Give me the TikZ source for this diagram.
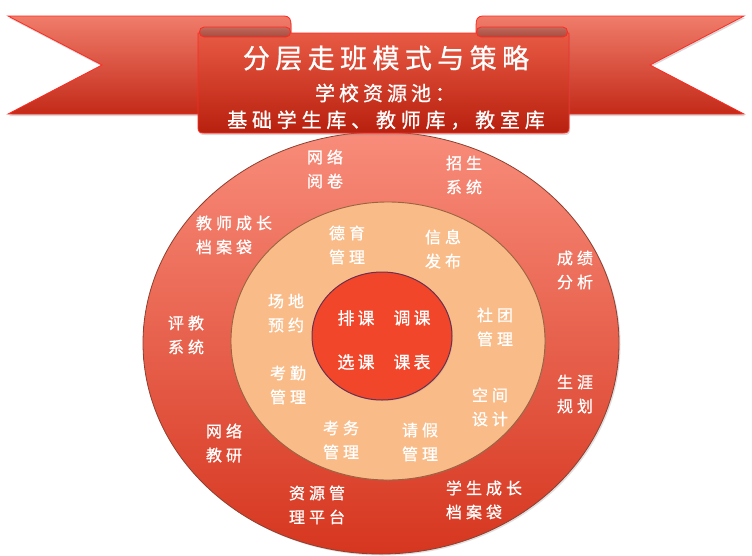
\documentclass[tikz,border=0pt]{standalone}
\usepackage{fontspec}
\newfontfamily\cjk[FakeBold=0.8]{Noto Sans CJK SC}
\usetikzlibrary{shadows}
\definecolor{ribtop}{HTML}{F07C6A}
\definecolor{ribbot}{HTML}{C42A18}
\definecolor{frtop}{HTML}{E85A44}
\definecolor{frbot}{HTML}{B8200E}
\definecolor{ribedge}{HTML}{FF2A22}
\definecolor{rolltop}{HTML}{C06A5E}
\definecolor{rollbot}{HTML}{A84A3C}
\definecolor{outtop}{HTML}{F88C7A}
\definecolor{outmid}{HTML}{F4503A}
\definecolor{outbot}{HTML}{D6361F}
\definecolor{outedge}{HTML}{8E4030}
\definecolor{peach}{HTML}{F9BC88}
\definecolor{peachedge}{HTML}{9A6440}
\definecolor{core}{HTML}{F2462A}
\definecolor{coreedge}{HTML}{6A3050}
\tikzset{
  lbl/.style={text=white, inner sep=0pt, align=center,
    font=\cjk\addfontfeature{LetterSpace=25}\fontsize{16}{24}\selectfont},
  lbll/.style={lbl, align=left},
  corelbl/.style={text=white, inner sep=0pt,
    font=\cjk\addfontfeature{LetterSpace=18}\fontsize{17}{20}\selectfont},
  ribbon/.style={draw=ribedge, line width=0.8pt, top color=ribtop, bottom color=ribbot},
}
\begin{document}
\begin{tikzpicture}[x=1pt,y=-1pt]
\useasboundingbox (0,0) rectangle (752,555);
\fill[white] (0,0) rectangle (752,555);
% rings
\path[shade, top color=outtop, middle color=outmid, bottom color=outbot, draw=outedge, line width=0.8pt,
  drop shadow={shadow xshift=1.5pt, shadow yshift=-1.5pt, opacity=0.25}]
  (381,343) ellipse [x radius=238pt, y radius=211pt];
\path[fill=peach, draw=peachedge, line width=0.9pt,
  drop shadow={shadow xshift=1pt, shadow yshift=-1pt, opacity=0.2}]
  (388,341) ellipse [x radius=157pt, y radius=139pt];
\path[fill=core, draw=coreedge, line width=1pt,
  drop shadow={shadow xshift=1pt, shadow yshift=-1pt, opacity=0.2}]
  (382,336) ellipse [x radius=70pt, y radius=64pt];
% banner back pieces
\path[ribbon, drop shadow={shadow xshift=1pt, shadow yshift=-2pt, opacity=0.3}]
  (8,16) -- (283,16) .. controls (290,16) and (291,19) .. (291,26) -- (291,114) -- (8,114) -- (102,65) -- cycle;
\path[ribbon, drop shadow={shadow xshift=1pt, shadow yshift=-2pt, opacity=0.3}]
  (744,16) -- (484,16) .. controls (477,16) and (476,19) .. (476,26) -- (476,114) -- (744,114) -- (650,65) -- cycle;
% front panel
\path[draw=ribedge, line width=0.8pt, top color=frtop, bottom color=frbot,
  drop shadow={shadow xshift=1pt, shadow yshift=-2pt, opacity=0.3}]
  (198,33) -- (198,128) .. controls (198,132) and (200,133) .. (204,133) -- (563,133)
  .. controls (567,133) and (569,132) .. (569,128) -- (569,33) -- cycle;
% rolls
\path[draw=ribedge, line width=0.8pt, top color=rolltop, bottom color=rollbot]
  (204,27) -- (286,27) .. controls (292,27) and (292,37) .. (286,37) -- (204,37)
  .. controls (198,37) and (198,27) .. (204,27) -- cycle;
\path[draw=ribedge, line width=0.8pt, top color=rolltop, bottom color=rollbot]
  (481,27) -- (563,27) .. controls (569,27) and (569,37) .. (563,37) -- (481,37)
  .. controls (475,37) and (475,27) .. (481,27) -- cycle;
% banner texts
\node[text=white, inner sep=0pt, font=\cjk\addfontfeature{LetterSpace=20}\fontsize{27}{30}\selectfont]
  (title) at (386,58) {分层走班模式与策略};
\node[text=white, inner sep=0pt, font=\cjk\addfontfeature{LetterSpace=20}\fontsize{20}{24}\selectfont]
  (sub1) at (385,93) {学校资源池：};
\node[text=white, inner sep=0pt, font=\cjk\addfontfeature{LetterSpace=24}\fontsize{20}{24}\selectfont]
  (sub2) at (386,120) {基础学生库、教师库，教室库};
% outer ring labels
\node[lbl] (o1) at (325,169) {网络\\阅卷};
\node[lbl] (o2) at (464,175) {招生\\系统};
\node[lbll] (o3) at (234,235) {教师成长\\档案袋};
\node[lbl] (o4) at (575,270) {成绩\\分析};
\node[lbl] (o5) at (186,335) {评教\\系统};
\node[lbl] (o6) at (575,394) {生涯\\规划};
\node[lbl] (o7) at (224,443) {网络\\教研};
\node[lbll] (o8) at (317,505) {资源管\\理平台};
\node[lbll] (o9) at (484,500) {学生成长\\档案袋};
% middle ring labels
\node[lbl] (m1) at (347,245) {德育\\管理};
\node[lbl] (m2) at (443,249) {信息\\发布};
\node[lbl] (m3) at (286,313) {场地\\预约};
\node[lbl] (m4) at (495,327) {社团\\管理};
\node[lbl] (m5) at (288,385) {考勤\\管理};
\node[lbl] (m6) at (490,407) {空间\\设计};
\node[lbl] (m7) at (341,440) {考务\\管理};
\node[lbl] (m8) at (420,442) {请假\\管理};
% core labels
\node[corelbl] (c1) at (356,318) {排课};
\node[corelbl] (c2) at (412,318) {调课};
\node[corelbl] (c3) at (356,362) {选课};
\node[corelbl] (c4) at (412,362) {课表};
\end{tikzpicture}
\end{document}
